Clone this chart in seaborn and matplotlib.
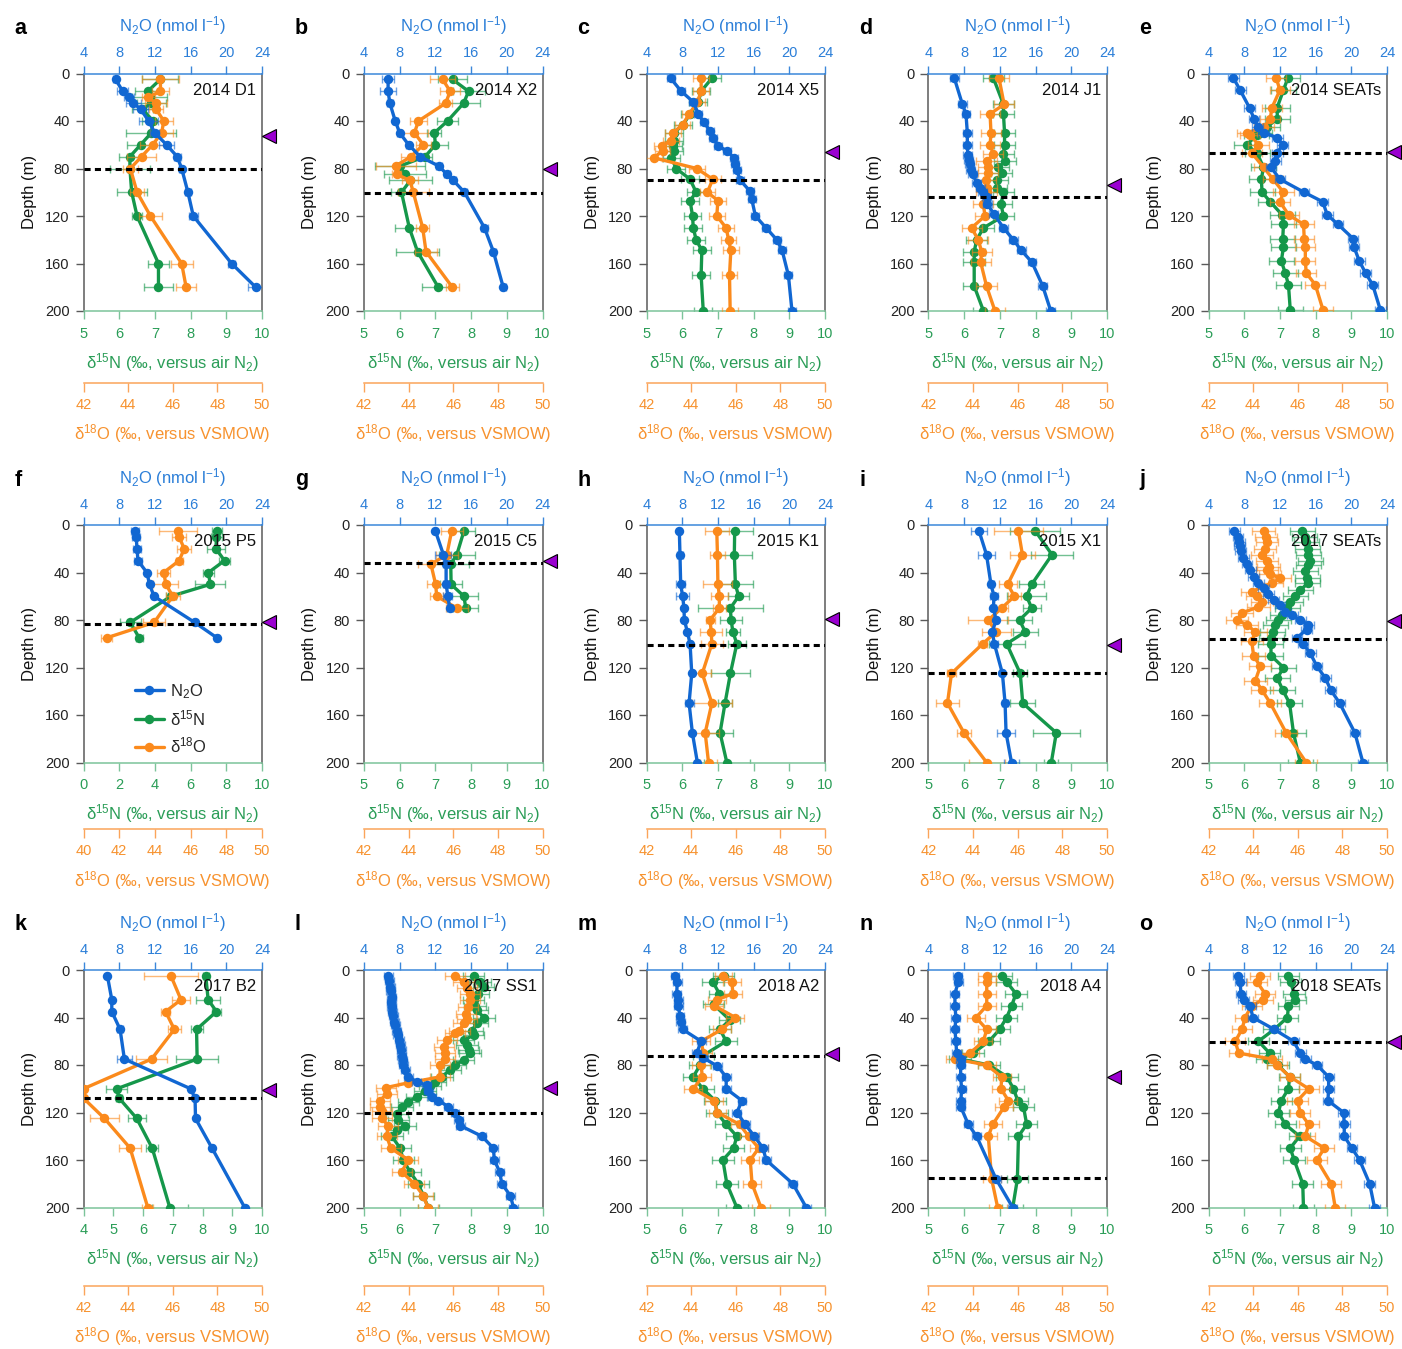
import numpy as np
import matplotlib
matplotlib.use("Agg")
import matplotlib.pyplot as plt
import matplotlib.transforms as mtransforms
from matplotlib.lines import Line2D
import seaborn as sns

sns.set_theme(style="ticks")
plt.rcParams["font.family"] = ["Liberation Sans", "DejaVu Sans"]
plt.rcParams["mathtext.fontset"] = "custom"
plt.rcParams["mathtext.rm"] = "Liberation Sans"
plt.rcParams["mathtext.it"] = "Liberation Sans:italic"
plt.rcParams["mathtext.bf"] = "Liberation Sans:bold"

BLUE, BLUE_TXT = "#1167d2", "#2b7ed8"
GREEN, GREEN_TXT = "#15974a", "#2a9d57"
ORANGE, ORANGE_TXT = "#fb8a1c", "#f7922e"
PURPLE = "#9a00d0"

# ---------------- 2014 D1 ----------------
a_depth = [5, 15, 20, 25, 30, 40, 50, 60, 70, 80, 100, 120, 160, 180]
a_n2o = [7.6, 8.4, 9.1, 9.6, 10.4, 11.3, 12.0, 13.3, 14.5, 15.0, 15.7, 16.3, 20.6, 23.3]
a_d15n = [7.15, 6.8, 6.85, 6.9, 6.65, 6.95, 6.9, 6.6, 6.3, 6.3, 6.35, 6.5, 7.1, 7.1]
a_d18o = [45.45, 45.45, 44.9, 45.25, 45.25, 45.6, 45.5, 45.1, 44.6, 44.1, 44.4, 45.0, 46.4, 46.6]
a_n2o_err = [0.3, 0.6, 0.6, 0.8, 0.8, 1.1, 0.5, 0.8, 0.4, 0.3, 0.3, 0.5, 0.4, 0.9]
a_d15n_err = [0.5, 0.35, 0.5, 0.4, 0.3, 0.3, 0.7, 0.37, 0.3, 0.55, 0.42, 0.15, 0.3, 0.4]
a_d18o_err = [0.85, 0.4, 0.3, 0.5, 0.3, 0.4, 0.5, 0.55, 0.65, 0.35, 0.3, 0.5, 0.5, 0.45]

# ---------------- 2014 X2 ----------------
b_depth = [5, 15, 25, 40, 50, 60, 70, 78, 85, 90, 100, 130, 150, 180]
b_n2o = [6.7, 6.7, 6.9, 7.5, 8.0, 9.0, 10.3, 12.4, 13.3, 14.0, 15.25, 17.5, 18.5, 19.6]
b_d15n = [7.48, 7.93, 7.79, 7.34, 6.97, 7.0, 6.71, 6.0, 6.15, 6.3, 6.05, 6.27, 6.5, 7.08]
b_d18o = [45.53, 45.86, 45.66, 44.44, 44.26, 44.66, 44.1, 43.42, 43.47, 44.06, 44.21, 44.63, 44.78, 45.96]
b_n2o_err = [0.7, 0.9, 0.3, 0.3, 0.3, 0.3, 0.3, 0.3, 0.3, 0.3, 0.3, 0.4, 0.3, 0.3]
b_d15n_err = [0.4, 0.45, 0.45, 0.3, 0.2, 0.35, 0.2, 0.7, 0.6, 0.6, 0.3, 0.4, 0.6, 0.45]
b_d18o_err = [0.55, 0.45, 0.3, 0.4, 0.6, 0.35, 0.45, 0.9, 0.2, 0.35, 0.7, 0.3, 0.5, 0.3]

# ---------------- 2014 X5 ----------------
c_depth_n2o = [4, 15, 24, 34, 41, 48, 54, 61, 65, 71, 76, 81, 90, 99, 106, 120, 130, 140, 149, 170, 200]
c_n2o = [6.7, 7.9, 9.25, 9.8, 10.4, 11.1, 11.5, 12.0, 13.0, 13.8, 13.9, 14.1, 14.5, 15.6, 15.8, 16.2,
         17.4, 18.6, 19.2, 19.9, 20.3]
c_depth_iso = [4, 15, 24, 34, 43, 50, 57, 61, 65, 71, 80, 89, 100, 107, 120, 130, 140, 149, 170, 200]
c_d15n = [6.83, 6.53, 6.45, 6.22, 6.03, 5.77, 5.78, 5.75, 5.78, 5.7, 5.83, 6.22, 6.39, 6.22, 6.29, 6.31,
          6.39, 6.55, 6.53, 6.59]
c_d18o = [44.45, 44.45, 44.28, 43.92, 43.62, 43.2, 43.1, 42.68, 42.72, 42.33, 44.25, 44.97, 44.73, 45.2,
          45.15, 45.57, 45.68, 45.78, 45.72, 45.75]

# ---------------- 2014 J1 ----------------
d_depth_n2o = [4, 26, 34, 50, 60, 69, 73, 76, 81, 85, 92, 96, 100, 104, 110, 118, 130, 140, 149, 159, 179, 200]
d_n2o = [6.9, 7.8, 8.2, 8.35, 8.35, 8.4, 8.5, 8.6, 8.75, 8.95, 9.4, 9.8, 10.1, 10.5, 10.6, 11.3, 12.4,
         13.5, 14.4, 15.6, 16.8, 17.7]
d_depth_iso = [4, 26, 34, 50, 60, 68, 74, 79, 84, 90, 96, 100, 110, 120, 130, 140, 150, 159, 179, 200]
d_d15n = [6.82, 7.1, 7.1, 7.13, 7.13, 7.1, 7.14, 6.96, 7.05, 6.93, 6.91, 7.1, 7.03, 7.1, 6.54, 6.35, 6.28,
          6.28, 6.28, 6.54]
d_d18o = [45.16, 45.39, 44.76, 44.8, 44.76, 44.91, 44.6, 44.68, 44.68, 44.56, 44.6, 44.6, 44.46, 44.53,
          43.93, 44.23, 44.38, 44.34, 44.6, 44.98]

# ---------------- 2014 SEATs ----------------
e_depth_n2o = [4, 14, 29, 38, 45, 50, 54, 60, 67, 74, 79, 89, 100, 108, 119, 127, 139, 146, 158, 168, 178, 199]
e_n2o = [6.8, 7.55, 8.6, 9.1, 9.5, 10.2, 11.7, 12.3, 11.7, 11.5, 11.0, 12.0, 14.7, 16.8, 17.3, 18.5, 20.2,
         20.3, 20.9, 21.6, 22.4, 23.25]
e_depth_iso = [4, 14, 29, 38, 45, 50, 52, 60, 67, 79, 89, 100, 108, 119, 127, 139, 146, 158, 168, 178, 199]
e_d15n = [7.22, 7.1, 6.92, 6.93, 6.64, 6.43, 6.35, 6.07, 6.36, 6.54, 6.48, 6.5, 6.73, 7.06, 7.1, 7.08, 7.1,
          7.04, 7.15, 7.24, 7.29]
e_d18o = [45.04, 45.2, 44.84, 44.77, 44.5, 43.72, 43.87, 44.24, 43.94, 44.47, 44.89, 45.36, 45.2, 45.59,
          46.26, 46.29, 46.34, 46.34, 46.38, 46.79, 47.13]

# ---------------- 2015 P5 ----------------
f_depth = [5, 10, 20, 30, 40, 50, 60, 82, 95]
f_n2o = [9.8, 9.9, 10.0, 10.1, 11.1, 11.4, 11.9, 16.45, 18.95]
f_d15n = [7.48, 7.45, 7.42, 7.9, 7.0, 7.1, 4.9, 2.62, 3.12]
f_d18o = [45.29, 45.36, 45.64, 45.36, 44.49, 44.62, 45.0, 43.96, 41.3]
f_n2o_err = [0.45, 0.45, 0.45, 0.45, 0.2, 0.2, 0.2, 0.2, 0.2]
f_d15n_err = [0.3, 0.3, 0.5, 0.3, 0.3, 0.85, 0.3, 0.6, 0.2]
f_d18o_err = [1.05, 0.4, 0.4, 0.2, 0.35, 0.7, 0.4, 0.6, 0.3]

# ---------------- 2015 C5 ----------------
g_depth = [5, 25, 33, 50, 60, 70]
g_n2o = [12.0, 12.9, 13.2, 13.2, 13.4, 13.6]
g_d15n = [7.8, 7.6, 7.43, 7.44, 7.8, 7.85]
g_d18o = [45.93, 45.71, 45.0, 45.21, 45.26, 46.16]
g_n2o_err = [0.2, 0.9, 0.3, 0.3, 0.5, 0.3]
g_d15n_err = [0.3, 0.5, 0.5, 0.3, 0.4, 0.35]
g_d18o_err = [0.5, 0.5, 0.6, 0.4, 0.3, 0.5]

# ---------------- 2015 K1 ----------------
h_depth = [5, 25, 50, 60, 70, 80, 90, 100, 125, 150, 175, 200]
h_n2o = [7.68, 7.75, 7.83, 8.05, 8.2, 8.24, 8.58, 8.88, 9.07, 8.77, 9.14, 9.7]
h_d15n = [7.47, 7.46, 7.49, 7.58, 7.35, 7.37, 7.42, 7.53, 7.35, 7.2, 7.06, 7.25]
h_d18o = [45.15, 45.18, 45.2, 45.27, 45.26, 44.85, 44.9, 44.93, 44.5, 44.93, 44.63, 44.78]
h_n2o_err = [0.2, 0.3, 0.5, 0.7, 0.2, 0.2, 0.2, 0.2, 0.2, 0.5, 0.2, 0.2]
h_d15n_err = [0.5, 0.5, 0.5, 0.3, 0.9, 0.3, 0.2, 0.25, 0.55, 0.2, 0.35, 0.65]
h_d18o_err = [0.55, 0.35, 0.65, 0.4, 0.3, 0.2, 0.5, 0.5, 0.4, 0.9, 0.6, 0.4]

# ---------------- 2015 X1 ----------------
i_depth = [5, 25, 50, 60, 70, 80, 90, 100, 125, 150, 175, 200]
i_n2o = [9.66, 10.5, 11.0, 11.34, 11.27, 11.57, 11.15, 11.38, 12.28, 12.58, 12.69, 13.3]
i_d15n = [7.99, 8.46, 7.89, 7.75, 7.89, 7.55, 7.71, 7.19, 7.57, 7.64, 8.58, 8.44]
i_d18o = [46.03, 46.21, 45.55, 45.85, 45.28, 44.68, 45.03, 44.43, 43.03, 42.85, 43.59, 44.61]
i_n2o_err = [0.9, 1.0, 0.3, 0.5, 0.3, 0.2, 0.3, 0.4, 0.2, 0.3, 1.0, 0.8]
i_d15n_err = [0.7, 0.6, 0.35, 0.55, 0.25, 0.35, 0.35, 0.5, 0.2, 0.35, 0.65, 0.2]
i_d18o_err = [1.1, 0.55, 0.4, 0.3, 0.3, 0.9, 0.65, 0.2, 0.2, 0.5, 0.3, 0.8]

# ---------------- 2017 SEATs ----------------
j_depth_n2o = [5, 10, 14, 18, 22, 28, 33, 38, 44, 49, 53, 58, 63, 67, 73, 76, 80, 84, 88, 95, 100, 108,
               119, 129, 139, 150, 175, 200]
j_n2o = [6.9, 7.3, 7.45, 7.5, 7.6, 7.9, 8.3, 8.7, 9.05, 9.6, 10.2, 10.7, 11.3, 12.0, 12.6, 13.4, 14.3,
         15.2, 15.0, 13.9, 14.6, 15.4, 16.15, 17.1, 17.7, 18.7, 20.4, 21.3]
j_depth_d15n = [5, 10, 14, 20, 25, 30, 34, 39, 45, 49, 55, 60, 65, 70, 76, 80, 84, 90, 95, 100, 110, 120,
                129, 139, 150, 175, 200]
j_d15n = [7.62, 7.69, 7.74, 7.78, 7.8, 7.85, 7.79, 7.71, 7.76, 7.78, 7.57, 7.43, 7.29, 7.2, 7.06, 6.96,
          6.87, 6.8, 6.76, 6.75, 6.75, 7.1, 6.93, 7.08, 7.27, 7.38, 7.57]
j_depth_d18o = [5, 10, 14, 20, 25, 30, 35, 38, 41, 45, 49, 56, 60, 65, 69, 74, 80, 84, 90, 98, 110, 119,
                131, 139, 150, 175, 200]
j_d18o = [44.47, 44.57, 44.62, 44.54, 44.4, 44.62, 44.69, 44.62, 44.77, 45.2, 44.84, 43.94, 44.17, 44.4,
          44.24, 43.5, 43.27, 43.72, 44.1, 43.94, 44.02, 44.32, 44.1, 44.4, 44.77, 45.48, 46.38]

# ---------------- 2017 B2 ----------------
k_depth = [5, 25, 35, 50, 75, 100, 108, 125, 150, 200]
k_n2o = [6.68, 7.17, 7.17, 8.1, 8.58, 16.0, 16.5, 16.55, 18.4, 22.06]
k_d15n = [8.11, 8.19, 8.47, 7.8, 7.82, 5.12, 5.2, 5.79, 6.31, 6.9]
k_d18o = [45.92, 46.37, 45.68, 46.07, 45.05, 42.0, 42.0, 42.94, 44.09, 44.88]
k_n2o_err = [0.2, 0.2, 0.2, 0.3, 0.8, 0.2, 0.2, 0.2, 0.2, 0.2]
k_d15n_err = [0.1, 0.4, 0.15, 0.2, 0.7, 0.35, 0.1, 0.3, 0.2, 0.6]
k_d18o_err = [1.2, 0.4, 0.2, 0.3, 0.7, 0.1, 0.1, 0.65, 0.5, 0.25]

# ---------------- 2017 SS1 ----------------
l_depth_n2o = [5, 9, 14, 18, 23, 27, 31, 35, 39, 44, 46, 51, 55, 59, 63, 67, 72, 76, 80, 84, 90, 94, 97,
               102, 107, 110, 115, 120, 126, 131, 140, 150, 160, 170, 180, 190, 200]
l_n2o = [6.73, 6.84, 6.92, 6.99, 7.1, 7.03, 7.1, 7.18, 7.29, 7.4, 7.48, 7.66, 7.78, 7.93, 8.04, 8.15,
         8.22, 8.34, 8.41, 8.6, 8.97, 9.9, 11.03, 11.2, 11.6, 12.34, 13.46, 14.2, 14.6, 14.77, 17.2, 18.5,
         18.6, 19.2, 19.44, 20.4, 20.75]
l_depth_d15n = [5, 10, 14, 20, 25, 30, 34, 40, 45, 51, 55, 59, 63, 67, 70, 76, 80, 84, 90, 94, 98, 102,
                107, 111, 115, 121, 126, 131, 135, 140, 150, 160, 170, 180, 190, 200]
l_d15n = [8.07, 8.25, 8.35, 8.2, 8.07, 8.11, 8.16, 8.36, 8.16, 8.02, 8.07, 7.79, 7.88, 7.93, 7.97, 7.79,
          7.55, 7.41, 7.18, 6.99, 6.85, 6.71, 6.48, 6.24, 6.06, 5.92, 5.96, 6.15, 5.92, 5.78, 6.01, 6.1,
          6.29, 6.52, 6.66, 6.8]
l_depth_d18o = [5, 10, 15, 20, 25, 31, 37, 41, 45, 51, 53, 59, 65, 70, 75, 80, 90, 95, 99, 104, 110, 115,
                119, 125, 131, 140, 150, 160, 170, 180, 190, 200]
l_d18o = [46.08, 46.46, 46.6, 46.76, 46.76, 46.68, 46.58, 46.6, 46.46, 46.28, 46.08, 45.71, 45.6, 45.63,
          45.63, 45.41, 45.41, 43.99, 42.99, 43.02, 42.72, 42.72, 42.79, 42.79, 43.09, 43.02, 43.2, 43.99,
          43.69, 44.26, 44.66, 44.86]

# ---------------- 2018 A2 ----------------
m_depth_n2o = [5, 10, 20, 25, 30, 39, 44, 50, 60, 70, 74, 81, 90, 100, 110, 120, 130, 140, 150, 160, 180, 200]
m_n2o = [7.19, 7.45, 7.38, 7.56, 7.56, 7.75, 7.83, 8.05, 10.12, 9.63, 10.38, 11.95, 12.93, 12.93, 14.7,
         14.13, 15.07, 16.08, 17.06, 17.4, 20.4, 21.9]
m_depth_d15n = [5, 10, 20, 29, 42, 50, 60, 72, 80, 90, 100, 110, 120, 130, 140, 150, 160, 180, 200]
m_d15n = [7.16, 6.86, 7.04, 6.88, 7.33, 7.06, 7.23, 6.59, 6.5, 6.31, 6.58, 6.92, 6.97, 7.23, 7.53, 7.44,
          7.14, 7.25, 7.53]
m_depth_d18o = [5, 10, 20, 25, 30, 40, 50, 60, 70, 80, 90, 100, 110, 120, 130, 140, 150, 160, 180, 200]
m_d18o = [45.45, 45.83, 45.87, 45.15, 45.03, 45.98, 45.38, 44.45, 44.55, 44.45, 44.5, 44.1, 45.03, 45.18,
          46.17, 46.58, 47.03, 46.65, 46.73, 47.13]

# ---------------- 2018 A4 ----------------
n_depth = [5, 10, 20, 30, 40, 50, 60, 70, 75, 80, 90, 100, 110, 115, 130, 140, 176, 200]
n_n2o = [7.26, 7.33, 6.96, 6.96, 7.07, 6.96, 7.07, 7.15, 7.6, 7.6, 7.6, 7.71, 7.63, 7.6, 8.46, 9.39,
         11.57, 13.44]
n_d15n = [7.05, 7.19, 7.45, 7.33, 7.19, 6.99, 6.7, 6.25, 5.88, 6.7, 7.2, 7.38, 7.5, 7.66, 7.75, 7.52,
          7.49, 7.36]
n_d18o = [44.61, 44.61, 44.61, 44.61, 44.13, 44.61, 44.46, 43.86, 43.18, 44.61, 45.28, 45.25, 45.58, 45.4,
          44.88, 44.68, 44.83, 45.1]

# ---------------- 2018 SEATs ----------------
o_depth = [5, 10, 20, 25, 30, 40, 50, 60, 70, 75, 80, 90, 100, 110, 120, 130, 140, 150, 160, 180, 200]
o_n2o = [7.36, 7.55, 7.63, 7.93, 8.67, 8.97, 11.36, 13.53, 14.28, 14.84, 16.15, 17.46, 17.46, 17.38, 19.14,
         19.21, 19.21, 20.07, 20.93, 22.06, 22.6]
o_d15n = [7.24, 7.3, 7.4, 7.43, 7.24, 7.21, 6.84, 6.4, 6.71, 6.64, 6.95, 7.27, 7.24, 7.04, 6.96, 7.15,
          7.55, 7.29, 7.4, 7.64, 7.66]
o_d18o = [44.29, 44.17, 44.54, 44.44, 43.94, 43.64, 43.5, 43.2, 43.35, 44.84, 45.07, 45.66, 46.49, 45.99,
          46.11, 46.49, 46.34, 47.19, 46.86, 47.5, 47.68]

# mixed-layer depth (dashed) and marker depth (triangle) per station
mld_depths = [80, 101, 90, 104, 67, 83, 32, 101, 125, 96, 108, 120, 72.5, 175.5, 61]
marker_depths = [53, 80, 66, 94, 66, 82, 30, 79, 101, 81, 101, 99, 71, 90, 61]
station_names = ["2014 D1", "2014 X2", "2014 X5", "2014 J1", "2014 SEATs",
                 "2015 P5", "2015 C5", "2015 K1", "2015 X1", "2017 SEATs",
                 "2017 B2", "2017 SS1", "2018 A2", "2018 A4", "2018 SEATs"]
panel_letters = list("abcdefghijklmno")

N2O_TICKS = [4, 8, 12, 16, 20, 24]
DEPTH_TICKS = [0, 40, 80, 120, 160, 200]
D15N_TICKS_STD = [5, 6, 7, 8, 9, 10]
D18O_TICKS_STD = [42, 44, 46, 48, 50]

PANELS = [
    dict(n2o=(a_depth, a_n2o, a_n2o_err), d15n=(a_depth, a_d15n, a_d15n_err), d18o=(a_depth, a_d18o, a_d18o_err)),
    dict(n2o=(b_depth, b_n2o, b_n2o_err), d15n=(b_depth, b_d15n, b_d15n_err), d18o=(b_depth, b_d18o, b_d18o_err)),
    dict(n2o=(c_depth_n2o, c_n2o, 0.45), d15n=(c_depth_iso, c_d15n, 0.25), d18o=(c_depth_iso, c_d18o, 0.35)),
    dict(n2o=(d_depth_n2o, d_n2o, 0.5), d15n=(d_depth_iso, d_d15n, 0.3), d18o=(d_depth_iso, d_d18o, 0.45)),
    dict(n2o=(e_depth_n2o, e_n2o, 0.6), d15n=(e_depth_iso, e_d15n, 0.35), d18o=(e_depth_iso, e_d18o, 0.45)),
    dict(n2o=(f_depth, f_n2o, f_n2o_err), d15n=(f_depth, f_d15n, f_d15n_err), d18o=(f_depth, f_d18o, f_d18o_err),
         d15n_lim=(0, 10), d15n_ticks=[0, 2, 4, 6, 8, 10], d18o_lim=(40, 50), d18o_ticks=[40, 42, 44, 46, 48, 50]),
    dict(n2o=(g_depth, g_n2o, g_n2o_err), d15n=(g_depth, g_d15n, g_d15n_err), d18o=(g_depth, g_d18o, g_d18o_err)),
    dict(n2o=(h_depth, h_n2o, h_n2o_err), d15n=(h_depth, h_d15n, h_d15n_err), d18o=(h_depth, h_d18o, h_d18o_err)),
    dict(n2o=(i_depth, i_n2o, i_n2o_err), d15n=(i_depth, i_d15n, i_d15n_err), d18o=(i_depth, i_d18o, i_d18o_err)),
    dict(n2o=(j_depth_n2o, j_n2o, 0.6), d15n=(j_depth_d15n, j_d15n, 0.35), d18o=(j_depth_d18o, j_d18o, 0.5)),
    dict(n2o=(k_depth, k_n2o, k_n2o_err), d15n=(k_depth, k_d15n, k_d15n_err), d18o=(k_depth, k_d18o, k_d18o_err),
         d15n_lim=(4, 10), d15n_ticks=[4, 5, 6, 7, 8, 9, 10]),
    dict(n2o=(l_depth_n2o, l_n2o, 0.5), d15n=(l_depth_d15n, l_d15n, 0.3), d18o=(l_depth_d18o, l_d18o, 0.45)),
    dict(n2o=(m_depth_n2o, m_n2o, 0.5), d15n=(m_depth_d15n, m_d15n, 0.3), d18o=(m_depth_d18o, m_d18o, 0.4)),
    dict(n2o=(n_depth, n_n2o, 0.5), d15n=(n_depth, n_d15n, 0.3), d18o=(n_depth, n_d18o, 0.4)),
    dict(n2o=(o_depth, o_n2o, 0.6), d15n=(o_depth, o_d15n, 0.3), d18o=(o_depth, o_d18o, 0.45)),
]

FIG_W, FIG_H = 1402, 1349
COL_LEFT = [83.5, 364, 646.5, 928.5, 1208.5]
ROW_TOP = [73.5, 525, 970]
AX_W, AX_H = 178.5, 237.5
# distance (px) of the detached d18O axis below each row of panels
D18O_OFFSET = [71.5, 66.5, 78.0]

fig = plt.figure(figsize=(FIG_W / 100, FIG_H / 100), dpi=100)
fig.patch.set_facecolor("white")

TICK_FS = 10.5
LABEL_FS = 12


def plot_series(axx, series, color):
    dep, val, err = series
    err = np.broadcast_to(np.asarray(err, dtype=float), np.shape(val))
    axx.errorbar(val, dep, xerr=err, fmt="none", ecolor=color, alpha=0.6,
                 elinewidth=1.0, capsize=3.2, capthick=1.0, zorder=1)
    sns.lineplot(x=val, y=dep, ax=axx, color=color, marker="o", markersize=6.8,
                 markeredgewidth=0, linewidth=2.4, sort=False, estimator=None,
                 legend=False, zorder=3)


for idx, p in enumerate(PANELS):
    r, c = divmod(idx, 5)
    left = COL_LEFT[c] / FIG_W
    bottom = 1 - (ROW_TOP[r] + AX_H) / FIG_H
    ax = fig.add_axes([left, bottom, AX_W / FIG_W, AX_H / FIG_H])
    ax_o = ax.twiny()
    ax_t = ax.twiny()

    plot_series(ax, p["d15n"], GREEN)
    plot_series(ax_o, p["d18o"], ORANGE)
    plot_series(ax_t, p["n2o"], BLUE)

    ax.set_ylim(200, 0)
    ax.set_yticks(DEPTH_TICKS)
    ax.set_xlim(*p.get("d15n_lim", (5, 10)))
    ax.set_xticks(p.get("d15n_ticks", D15N_TICKS_STD))
    ax_o.set_xlim(*p.get("d18o_lim", (42, 50)))
    ax_o.set_xticks(p.get("d18o_ticks", D18O_TICKS_STD))
    ax_t.set_xlim(4, 24)
    ax_t.set_xticks(N2O_TICKS)

    # main axes: depth + d15N
    for s in ("left", "right"):
        ax.spines[s].set_color("#5a5a5a")
        ax.spines[s].set_linewidth(1.1)
    ax.spines["top"].set_visible(False)
    ax.spines["bottom"].set_color("#7cc49a")
    ax.spines["bottom"].set_linewidth(1.1)
    ax.tick_params(axis="x", which="both", bottom=True, top=False, labelbottom=True, labeltop=False,
                   direction="out", length=6, width=1.0, color="#7cc49a",
                   labelcolor=GREEN_TXT, labelsize=TICK_FS, pad=5.5)
    ax.tick_params(axis="y", left=True, right=False, direction="out", length=6, width=1.0,
                   color="#5a5a5a", labelcolor="#222222", labelsize=TICK_FS, pad=4)
    ax.set_xlabel("δ$^{15}$N (‰, versus air N$_2$)", color=GREEN_TXT, fontsize=LABEL_FS, labelpad=7)
    ax.set_ylabel("Depth (m)", color="#111111", fontsize=LABEL_FS, labelpad=6)

    # detached d18O axis below the d15N axis
    for s in ("left", "right", "top"):
        ax_o.spines[s].set_visible(False)
    ax_o.xaxis.set_ticks_position("bottom")
    ax_o.xaxis.set_label_position("bottom")
    ax_o.spines["bottom"].set_position(("axes", -D18O_OFFSET[r] / AX_H))
    ax_o.spines["bottom"].set_color("#fba45a")
    ax_o.spines["bottom"].set_linewidth(1.1)
    ax_o.tick_params(axis="x", which="both", bottom=True, top=False, labelbottom=True, labeltop=False,
                     direction="out", length=6.5, width=1.0, color="#fba45a",
                     labelcolor=ORANGE_TXT, labelsize=TICK_FS, pad=4.5)
    ax_o.set_xlabel("δ$^{18}$O (‰, versus VSMOW)", color=ORANGE_TXT, fontsize=LABEL_FS, labelpad=7.5)

    # N2O on top
    for s in ("left", "right", "bottom"):
        ax_t.spines[s].set_visible(False)
    ax_t.spines["top"].set_color("#3b87da")
    ax_t.spines["top"].set_linewidth(1.1)
    ax_t.tick_params(axis="x", which="both", top=True, bottom=False, labeltop=True, labelbottom=False,
                     direction="out", length=6, width=1.0, color="#3b87da",
                     labelcolor=BLUE_TXT, labelsize=TICK_FS, pad=3.5)
    ax_t.set_xlabel("N$_2$O (nmol l$^{-1}$)", color=BLUE_TXT, fontsize=LABEL_FS, labelpad=10.5)

    # mixed-layer depth and marker
    ax_t.axhline(mld_depths[idx], color="black", lw=2.2, dashes=(2.0, 1.4), zorder=6)
    trans = mtransforms.blended_transform_factory(ax_t.transAxes, ax_t.transData)
    ax_t.plot([1.04], [marker_depths[idx]], marker="<", markersize=10, color=PURPLE,
              markeredgecolor="black", markeredgewidth=0.8, transform=trans, clip_on=False,
              linestyle="none", zorder=7)

    ax_t.text(0.968, 0.93, station_names[idx], transform=ax_t.transAxes, ha="right", va="center",
              fontsize=12, color="#111111", zorder=8)

    fig.text((COL_LEFT[c] - 69) / FIG_W, 1 - (ROW_TOP[r] - 45) / FIG_H, panel_letters[idx],
             fontsize=15.5, fontweight="bold", ha="left", va="center", color="black")

    if panel_letters[idx] == "f":
        handles = [Line2D([0], [0], color=BLUE, marker="o", lw=2.4, ms=6.8, mew=0),
                   Line2D([0], [0], color=GREEN, marker="o", lw=2.4, ms=6.8, mew=0),
                   Line2D([0], [0], color=ORANGE, marker="o", lw=2.4, ms=6.8, mew=0)]
        ax_t.legend(handles, ["N$_2$O", "δ$^{15}$N", "δ$^{18}$O"], loc="lower left",
                    bbox_to_anchor=(0.29, 0.03), frameon=False, fontsize=12, handlelength=1.7,
                    handletextpad=0.4, labelspacing=0.45, borderpad=0, borderaxespad=0)

fig.savefig("out.png", dpi=100, facecolor="white")
